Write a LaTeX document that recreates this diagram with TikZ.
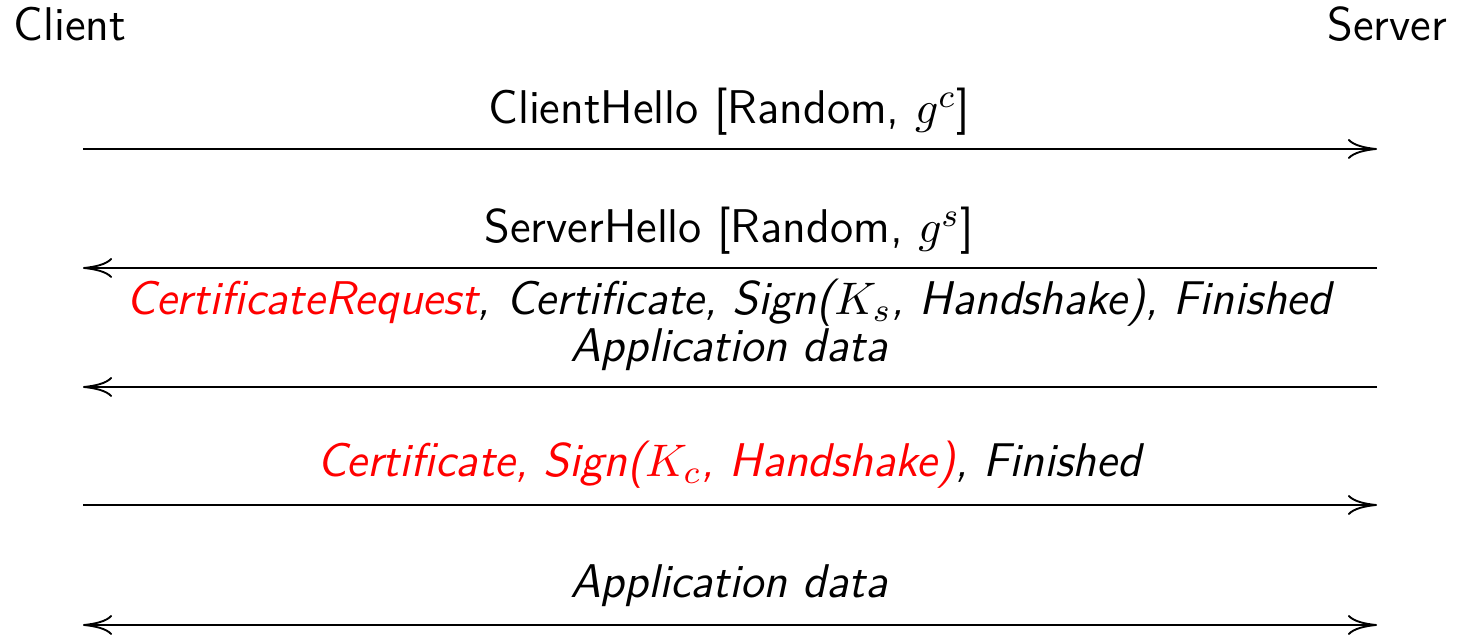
\documentclass[tikz,border=0pt]{standalone}
\usetikzlibrary{arrows.meta}
\begin{document}
\begin{tikzpicture}[x=0.24pt,y=-0.24pt,
  lbl/.style={font=\fontsize{11.35}{14}\selectfont\sffamily, inner sep=0pt, anchor=base},
  msg/.style={line width=0.45pt, -{Computer Modern Rightarrow[length=7pt,width=4.8pt,line width=0.45pt]}},
  bmsg/.style={line width=0.45pt, {Computer Modern Rightarrow[length=7pt,width=4.8pt,line width=0.45pt]}-{Computer Modern Rightarrow[length=7pt,width=4.8pt,line width=0.45pt]}}]
\useasboundingbox (0,0) rectangle (1459,635);
\node[lbl, anchor=base west] (client) at (13,41) {Client};
\node[lbl, anchor=base east] (server) at (1448,41) {Server};
\foreach \i/\y in {1/149,2/268,3/387,4/505,5/625}{
  \coordinate (c\i) at (83,\y);
  \coordinate (s\i) at (1377,\y);
}
\node[lbl] (m1) at (729,124) {ClientHello [Random, $g^c$]};
\draw[msg] (c1) -- (s1);
\node[lbl] (m2) at (729,243) {ServerHello [Random, $g^s$]};
\draw[msg] (s2) -- (c2);
\node[lbl] (m3a) at (729,315) {\itshape\textcolor{red}{CertificateRequest}, Certificate, Sign($K_s$, Handshake), Finished};
\node[lbl] (m3b) at (729,362) {\itshape Application data};
\draw[msg] (s3) -- (c3);
\node[lbl] (m4) at (729,477) {\itshape\textcolor{red}{Certificate, Sign($K_c$, Handshake)}, Finished};
\draw[msg] (c4) -- (s4);
\node[lbl] (m5) at (729,598) {\itshape Application data};
\draw[bmsg] (c5) -- (s5);
\end{tikzpicture}
\end{document}
